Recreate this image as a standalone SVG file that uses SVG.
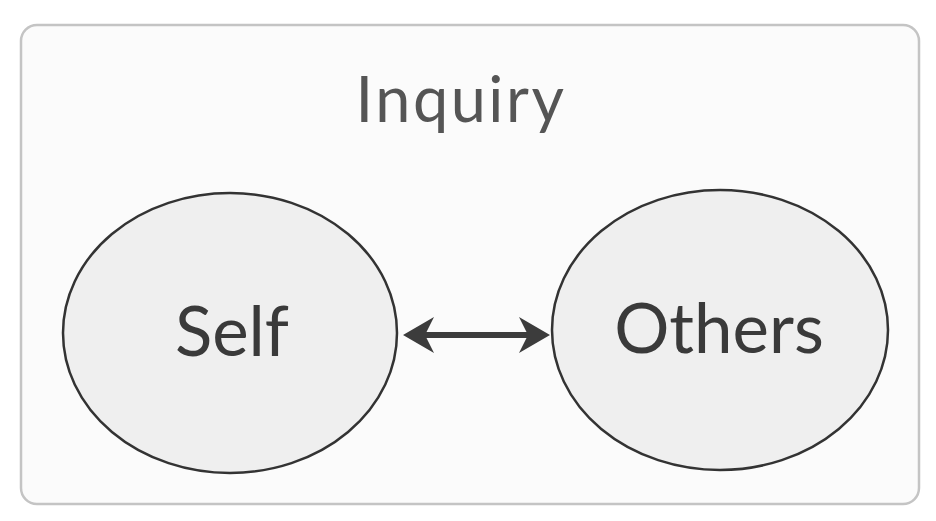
<svg xmlns="http://www.w3.org/2000/svg" width="936" height="521" viewBox="0 0 936 521">
<style>
.node ellipse{fill:#efefef;stroke:#333;stroke-width:2.5}
.lbl{font-family:Lato,"Open Sans","Liberation Sans",sans-serif;fill:#3a3a3a;text-anchor:middle}
.conn{stroke:#3c3c3c;stroke-width:6;fill:none}
.head{fill:#3c3c3c}
</style>
<rect width="936" height="521" fill="#ffffff"/>
<g id="inquiry">
<rect x="21" y="25" width="898" height="479" rx="16" ry="16" fill="#fbfbfb" stroke="#c4c4c4" stroke-width="2.5"/>
<text class="lbl" x="461" y="122" font-size="63" letter-spacing="2.5" style="fill:#555">Inquiry</text>
</g>
<g id="self" class="node">
<ellipse cx="230" cy="333" rx="167" ry="140"/>
<text class="lbl" x="232" y="356" font-size="69">Self</text>
</g>
<g id="others" class="node">
<ellipse cx="720" cy="330" rx="168" ry="140"/>
<text class="lbl" x="719" y="353" font-size="69">Others</text>
</g>
<g id="connectors">
<line class="conn" x1="420" y1="335" x2="533" y2="335"/>
<path class="head" d="M403,335 L434,317 L425,335 L434,353 Z"/>
<path class="head" d="M550,335 L519,317 L528,335 L519,353 Z"/>
</g>
</svg>
